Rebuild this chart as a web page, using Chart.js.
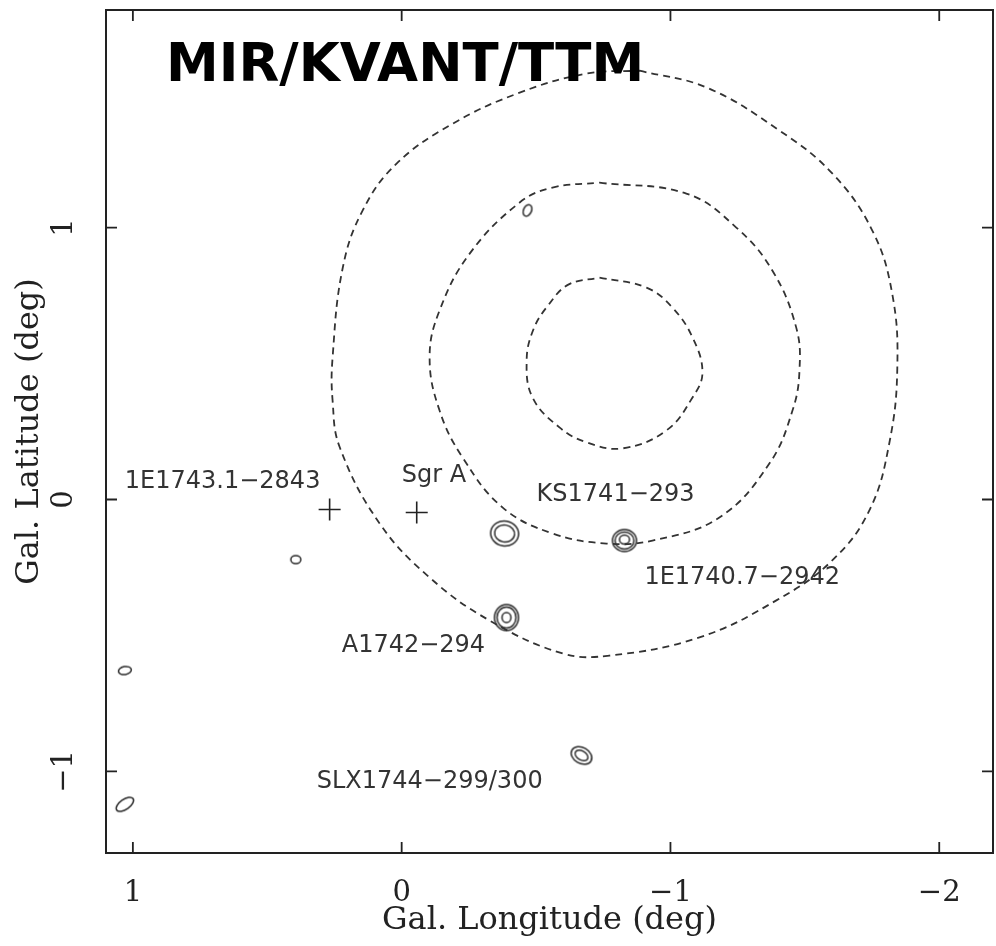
<!DOCTYPE html>
<html>
<head>
<meta charset="utf-8">
<script src="https://cdn.jsdelivr.net/npm/chart.js@4.4.1/dist/chart.umd.min.js"></script>
<style>
  html, body { margin: 0; padding: 0; background: #fff; }
  #wrap { width: 996px; height: 946px; }
</style>
</head>
<body>
<div id="wrap"><canvas id="skyChart" width="996" height="946"></canvas></div>
<script>
// Contour levels (gal. longitude / latitude, deg)
const outerLon = [-0.885, -1.134, -1.405, -1.602, -1.751, -1.825, -1.844, -1.814, -1.740, -1.602, -1.394, -1.108, -0.773, -0.599, -0.327, -0.104, 0.082, 0.230, 0.257, 0.257, 0.219, 0.145, 0.019, -0.190, -0.439, -0.688, -0.885];
const outerLat = [1.577, 1.515, 1.357, 1.199, 0.989, 0.757, 0.485, 0.206, -0.040, -0.224, -0.371, -0.507, -0.574, -0.566, -0.445, -0.287, -0.088, 0.191, 0.364, 0.522, 0.853, 1.063, 1.235, 1.382, 1.496, 1.566, 1.577];

const middleLon = [-0.736, -1.059, -1.245, -1.379, -1.468, -1.480, -1.454, -1.368, -1.182, -0.933, -0.762, -0.561, -0.375, -0.227, -0.141, -0.104, -0.141, -0.253, -0.439, -0.561, -0.736];
const middleLat = [1.165, 1.125, 1.000, 0.842, 0.632, 0.474, 0.327, 0.132, -0.066, -0.151, -0.162, -0.125, -0.029, 0.154, 0.327, 0.522, 0.695, 0.904, 1.092, 1.147, 1.165];

const innerLon = [-0.736, -0.911, -1.007, -1.082, -1.119, -1.082, -0.985, -0.822, -0.688, -0.587, -0.487, -0.465, -0.490, -0.545, -0.620, -0.736];
const innerLat = [0.816, 0.779, 0.706, 0.596, 0.467, 0.375, 0.254, 0.188, 0.210, 0.265, 0.375, 0.511, 0.625, 0.714, 0.790, 0.816];

// point sources (small solid contours)
const srcLon = [-0.383, -0.829, -0.390, -0.669, -0.468, 0.394, 1.030, 1.030];
const srcLat = [-0.125, -0.151, -0.434, -0.941, 1.063, -0.221, -0.629, -1.121];

// crosses: 1E1743.1-2843 and Sgr A
const crossLon = [0.268, -0.056];
const crossLat = [-0.037, -0.048];

// source names
const labelText = ['1E1743.1\u22122843', 'Sgr A', 'KS1741\u2212293', '1E1740.7\u22122942', 'A1742\u2212294', 'SLX1744\u2212299/300'];
const labelLon = [1.030, 0.000, -0.502, -0.903, 0.223, 0.316];
const labelLat = [0.044, 0.0625, -0.004, -0.309, -0.5625, -1.0625];

const xTickStep = 1;
const yTickStep = 1;

const toXY = (lon, lat) => lon.map((v, i) => ({ x: v, y: lat[i] }));

// ring shapes for each source: [rx, ry, rotationDeg, dx, dy]
const ringShapes = [
    [[14, 12.5, 10], [10, 8.5, 10]],
    [[12, 11, 0], [9.5, 8.5, 0], [5, 4.5, 0, 0, -1]],
    [[12, 13, 0], [9.5, 10.5, 0], [4.5, 5, 0]],
    [[11, 8, 30], [7, 4.5, 30]],
    [[4, 6, 25]],
    [[5, 4, 0]],
    [[6.5, 4, -10]],
    [[10, 5, -35]]
];

function makeBlob(rings) {
    const c = document.createElement('canvas');
    c.width = 36;
    c.height = 36;
    const g = c.getContext('2d');
    g.strokeStyle = '#2a2a2a';
    g.lineWidth = 1.5;
    rings.forEach(([rx, ry, rot, dx = 0, dy = 0]) => {
        g.beginPath();
        g.ellipse(18 + dx, 18 + dy, rx, ry, rot * Math.PI / 180, 0, 2 * Math.PI);
        g.stroke();
    });
    return c;
}
const blobs = ringShapes.map(makeBlob);

const contourStyle = {
    showLine: true,
    borderColor: '#333',
    borderWidth: 1.8,
    borderDash: [7, 5],
    pointRadius: 0,
    tension: 0.4,
    fill: false
};

const decorations = {
    id: 'decorations',
    afterDatasetsDraw(chart) {
        const { ctx, chartArea: a, scales: { x, y } } = chart;
        ctx.save();

        // source names
        ctx.font = '24px "DejaVu Sans"';
        ctx.fillStyle = '#333';
        ctx.textAlign = 'left';
        ctx.textBaseline = 'alphabetic';
        labelText.forEach((t, i) => {
            ctx.fillText(t, x.getPixelForValue(labelLon[i]), y.getPixelForValue(labelLat[i]));
        });

        // big title in the corner
        ctx.font = 'bold 53px "DejaVu Sans"';
        ctx.fillStyle = '#000';
        ctx.fillText('MIR/KVANT/TTM', a.left + 60, a.top + 71);

        // frame
        ctx.strokeStyle = '#222';
        ctx.lineWidth = 2;
        ctx.strokeRect(a.left, a.top, a.right - a.left, a.bottom - a.top);

        // inward tick marks
        const tl = 11;
        ctx.lineWidth = 1.8;
        ctx.beginPath();
        x.ticks.forEach(t => {
            const px = x.getPixelForValue(t.value);
            ctx.moveTo(px, a.bottom); ctx.lineTo(px, a.bottom - tl);
            ctx.moveTo(px, a.top); ctx.lineTo(px, a.top + tl);
        });
        y.ticks.forEach(t => {
            const py = y.getPixelForValue(t.value);
            ctx.moveTo(a.left, py); ctx.lineTo(a.left + tl, py);
            ctx.moveTo(a.right, py); ctx.lineTo(a.right - tl, py);
        });
        ctx.stroke();
        ctx.restore();
    }
};

const fmtTick = v => (v < 0 ? '\u2212' + Math.abs(v) : String(v));

new Chart(document.getElementById('skyChart'), {
    type: 'scatter',
    data: {
        datasets: [
            { ...contourStyle, data: toXY(outerLon, outerLat) },
            { ...contourStyle, data: toXY(middleLon, middleLat) },
            { ...contourStyle, data: toXY(innerLon, innerLat) },
            {
                data: toXY(srcLon, srcLat),
                pointStyle: blobs,
                pointRadius: 6,
                showLine: false
            },
            {
                data: toXY(crossLon, crossLat),
                pointStyle: 'cross',
                pointRadius: 11,
                borderColor: '#222',
                borderWidth: 1.6,
                showLine: false
            }
        ]
    },
    options: {
        responsive: false,
        animation: false,
        events: [],
        layout: { autoPadding: false, padding: { top: 10, right: 3, left: 0, bottom: 0 } },
        plugins: {
            legend: { display: false },
            tooltip: { enabled: false }
        },
        scales: {
            x: {
                type: 'linear',
                position: 'bottom',
                min: -2.2,
                max: 1.1,
                reverse: true,
                grid: { display: false },
                border: { display: false },
                ticks: {
                    stepSize: xTickStep,
                    includeBounds: false,
                    padding: 15,
                    color: '#222',
                    font: { family: '"DejaVu Serif"', size: 29 },
                    callback: fmtTick
                },
                title: {
                    display: true,
                    text: 'Gal. Longitude (deg)',
                    color: '#222',
                    font: { family: '"DejaVu Serif"', size: 32 },
                    padding: { top: 0, bottom: 6 }
                },
                afterFit: s => {
                    s.height = 93;
                    s.paddingLeft = 0;
                    s.paddingRight = 0;
                }
            },
            y: {
                type: 'linear',
                min: -1.3,
                max: 1.8,
                grid: { display: false },
                border: { display: false },
                ticks: {
                    stepSize: yTickStep,
                    includeBounds: false,
                    minRotation: 90,
                    maxRotation: 90,
                    crossAlign: 'center',
                    padding: 12,
                    color: '#222',
                    font: { family: '"DejaVu Serif"', size: 29 },
                    callback: fmtTick
                },
                title: {
                    display: true,
                    text: 'Gal. Latitude (deg)',
                    color: '#222',
                    font: { family: '"DejaVu Serif"', size: 32 },
                    padding: { top: 10, bottom: 0 }
                },
                afterFit: s => {
                    s.width = 106;
                    s.paddingTop = 0;
                    s.paddingBottom = 0;
                }
            }
        }
    },
    plugins: [decorations]
});
</script>
</body>
</html>
